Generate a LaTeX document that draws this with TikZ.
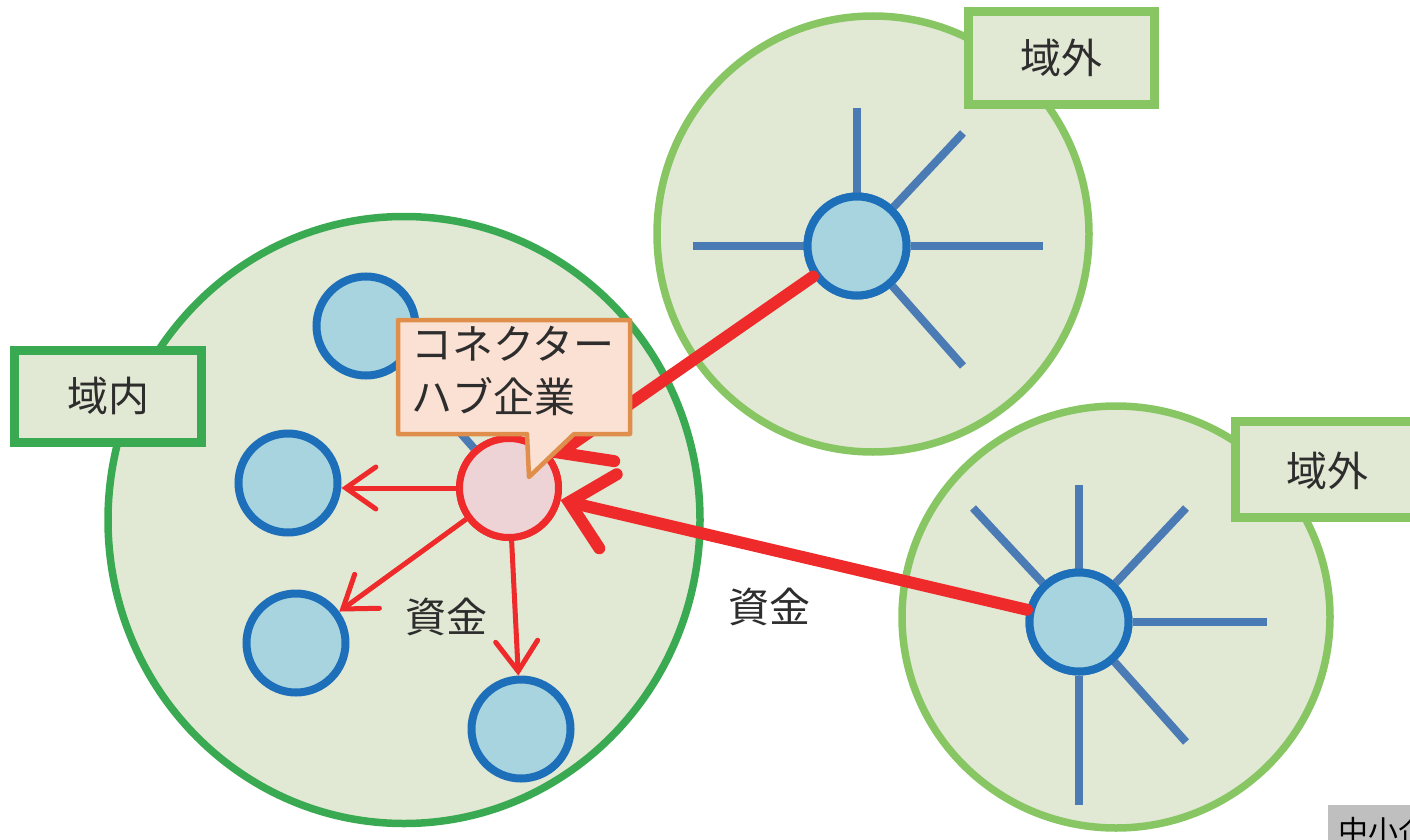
\documentclass[tikz,border=0pt]{standalone}
\usepackage{fontspec}
\setmainfont{Noto Sans CJK JP}
\usetikzlibrary{arrows.meta,shapes.geometric}
\definecolor{dgreen}{RGB}{58,170,82}
\definecolor{lgreen}{RGB}{136,198,100}
\definecolor{zonefill}{RGB}{225,232,212}
\definecolor{bstroke}{RGB}{30,111,185}
\definecolor{bfill}{RGB}{168,212,224}
\definecolor{spoke}{RGB}{74,123,181}
\definecolor{hred}{RGB}{238,42,42}
\definecolor{hubfill}{RGB}{237,211,213}
\definecolor{callfill}{RGB}{251,225,211}
\definecolor{callstroke}{RGB}{223,143,75}
\definecolor{txt}{RGB}{45,45,45}
\tikzset{
  zone/.style={ellipse,fill=zonefill,line width=7.5pt,inner sep=0pt},
  firm/.style={circle,draw=bstroke,fill=bfill,line width=8pt,minimum size=99pt,inner sep=0pt},
  hubfirm/.style={circle,draw=hred,fill=hubfill,line width=7pt,minimum size=99pt,inner sep=0pt},
  spokeline/.style={draw=spoke,line width=8pt},
  thinarrow/.style={draw=hred,line width=5pt,-{Straight Barb[length=30pt,width=42pt,line cap=round]}},
  thickarrow/.style={draw=hred,line width=12pt,line cap=round,-{Straight Barb[length=40pt,width=76pt,line cap=round]}},
  zonelabel/.style={rectangle,fill=zonefill,line width=9pt,inner sep=0pt,font=\fontsize{41}{48}\selectfont,text=txt},
  money/.style={font=\fontsize{41}{48}\selectfont,text=txt}
}
\begin{document}
\begin{tikzpicture}[x=1pt,y=-1pt]
\useasboundingbox (0,0) rectangle (1410,840);
% zones
\node[zone,draw=dgreen,minimum width=592pt,minimum height=607pt] (inzone) at (404,520) {};
\node[zone,draw=lgreen,minimum width=432pt,minimum height=436pt] (outzoneA) at (873,234) {};
\node[zone,draw=lgreen,minimum width=428pt,minimum height=422pt] (outzoneB) at (1116,617) {};
% label boxes
\node[zonelabel,draw=dgreen,minimum width=187pt,minimum height=92pt] (inlabel) at (108,396) {域内};
\node[zonelabel,draw=lgreen,minimum width=186pt,minimum height=93pt] (outlabelA) at (1061,58) {域外};
\node[zonelabel,draw=lgreen,minimum width=200pt,minimum height=96pt] (outlabelB) at (1335,469) {};
\node[font=\fontsize{41}{48}\selectfont,text=txt] (outlabelBtext) at (1327,471) {域外};
% spoke coordinates top-right
\coordinate (a1) at (857,108);
\coordinate (a2) at (963,133);
\coordinate (a3) at (693,246);
\coordinate (a4) at (1043,246);
\coordinate (a5) at (963,366);
% spoke coordinates bottom-right
\coordinate (b1) at (1079,485);
\coordinate (b2) at (973,508);
\coordinate (b3) at (1186,508);
\coordinate (b4) at (1267,622);
\coordinate (b5) at (1186,742);
\coordinate (b6) at (1079,805);
% hubs of outer zones
\node[firm] (hubA) at (857,246) {};
\node[firm] (hubB) at (1079,622) {};
\foreach \c in {a1,a2,a3,a4,a5} \draw[spokeline] (hubA) -- (\c);
\foreach \c in {b1,b2,b3,b4,b5,b6} \draw[spokeline] (hubB) -- (\c);
\node[firm] (hubA2) at (857,246) {};
\node[firm] (hubB2) at (1079,622) {};
% local firms
\node[firm] (f1) at (366,326) {};
\node[firm] (f2) at (288,483) {};
\node[firm] (f3) at (296,643) {};
\node[firm] (f4) at (521,729) {};
\node[hubfirm] (hub) at (509,488) {};
\draw[spokeline] (hub) -- (f1);
\node[hubfirm] (hubtop) at (509,488) {};
% money flows
\draw[thinarrow] (hubtop.west) -- (f2.east |- hubtop.west);
\draw[thinarrow] (hubtop) -- (f3);
\draw[thinarrow] (hubtop) -- (f4);
\draw[thickarrow] (hubA2) -- (hubtop);
\draw[thickarrow] (hubB2) -- (hubtop);
\node[money] (m1) at (446,617) {資金};
\node[money] (m2) at (769,607) {資金};
% callout
\coordinate (cTL) at (398,320);
\coordinate (cBR) at (630,434);
\coordinate (tipL) at (527,434);
\coordinate (tipR) at (574,434);
\coordinate (tip) at (529,477);
\draw[fill=callfill,draw=callstroke,line width=4.5pt,line join=round]
  (cTL) -- (cTL -| cBR) -- (cBR) -- (tipR) -- (tip) -- (tipL) -- (cTL |- cBR) -- cycle;
\node[anchor=north west,align=left,inner sep=0pt,font=\fontsize{41}{53}\selectfont,text=txt] (callout) at (411,326) {コネクター\\ハブ企業};
% source strip
\begin{scope}
\clip (0,0) rectangle (1410,840);
\fill[gray!50] (1328,805) rectangle (1420,845);
\node[anchor=west,inner sep=0pt,font=\fontsize{30}{32}\selectfont] (src) at (1338,831) {中小企業庁};
\end{scope}
\end{tikzpicture}
\end{document}
